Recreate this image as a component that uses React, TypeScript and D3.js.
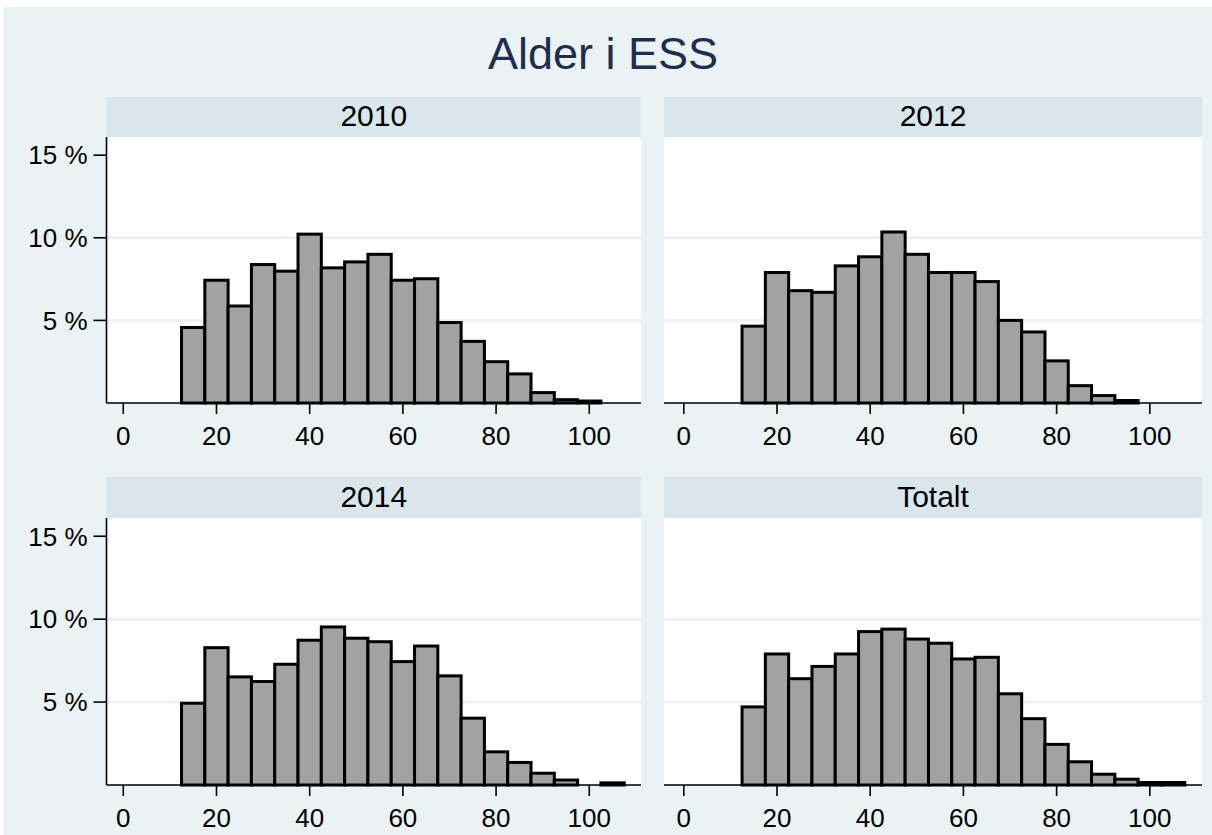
import * as d3 from 'd3'
import React from 'react'

const title = 'Alder i ESS'
const panelNames = ['2010', '2012', '2014', 'Totalt']

// histogram bins: 5-year width, first bin centred on 15
const binStart = 12.5
const binWidth = 5

// percent of respondents per bin
const pct2010 = [4.57, 7.43, 5.87, 8.38, 7.98, 10.22, 8.18, 8.54, 9.0, 7.43, 7.52, 4.87, 3.73, 2.5, 1.76, 0.63, 0.2, 0.12]
const pct2012 = [4.65, 7.9, 6.8, 6.7, 8.3, 8.85, 10.35, 9.0, 7.9, 7.9, 7.35, 5.0, 4.3, 2.55, 1.05, 0.45, 0.15]
const pct2014 = [4.93, 8.28, 6.52, 6.24, 7.28, 8.73, 9.53, 8.85, 8.64, 7.44, 8.38, 6.58, 4.03, 2.0, 1.36, 0.71, 0.3, 0, 0.13]
const pctTotalt = [4.71, 7.9, 6.41, 7.15, 7.9, 9.25, 9.4, 8.8, 8.55, 7.6, 7.7, 5.5, 4.0, 2.45, 1.4, 0.65, 0.35, 0.15, 0.15]

const xTicks = [0, 20, 40, 60, 80, 100]
const yTicks = [5, 10, 15]
const gridTicks = [5, 10]

const W = 1212
const H = 835
const font = "'Liberation Sans', Arial, Helvetica, sans-serif"

// panel frames: plot region edges, x range, strip top/bottom, baseline
const frames = [
  { left: 106.5, right: 641, xDom: [-3.6, 111.1], stripTop: 97, stripBottom: 137, base: 403, yAxis: true },
  { left: 664, right: 1202, xDom: [-4.25, 111.2], stripTop: 97, stripBottom: 137, base: 403, yAxis: false },
  { left: 106.5, right: 641, xDom: [-3.6, 111.1], stripTop: 477, stripBottom: 518, base: 785, yAxis: true },
  { left: 664, right: 1202, xDom: [-4.25, 111.2], stripTop: 477, stripBottom: 518, base: 785, yAxis: false },
]

const series = [pct2010, pct2012, pct2014, pctTotalt]

const Panel: React.FC<{ idx: number }> = ({ idx }) => {
  const f = frames[idx]
  const data = series[idx]
  const x = d3.scaleLinear().domain(f.xDom).range([f.left, f.right])
  const y = d3.scaleLinear().domain([0, 16.1]).range([f.base, f.stripBottom])

  const bins = data
    .map((v, i) => ({ x0: binStart + i * binWidth, x1: binStart + (i + 1) * binWidth, v }))
    .filter((d) => d.v > 0)

  return (
    <g>
      <rect x={f.left} y={f.stripBottom} width={f.right - f.left} height={f.base - f.stripBottom} fill='#ffffff' />
      {gridTicks.map((t) => (
        <line key={t} x1={f.left} x2={f.right} y1={y(t)} y2={y(t)} stroke='#eaf2f3' strokeWidth={2.5} />
      ))}
      {bins.map((d, i) => (
        <rect
          key={i}
          x={x(d.x0)}
          y={y(d.v)}
          width={x(d.x1) - x(d.x0)}
          height={f.base - y(d.v)}
          fill='#a2a2a2'
          stroke='#000'
          strokeWidth={3}
        />
      ))}
      {/* x axis */}
      <line x1={f.left} x2={f.right} y1={f.base} y2={f.base} stroke='#000' strokeWidth={1.6} />
      {xTicks.map((t) => (
        <g key={t}>
          <line x1={x(t)} x2={x(t)} y1={f.base} y2={f.base + 11} stroke='#000' strokeWidth={1.6} />
          <text x={x(t)} y={f.base + 42} textAnchor='middle' fontSize={26} fontFamily={font} fill='#000'>
            {t}
          </text>
        </g>
      ))}
      {/* y axis */}
      {f.yAxis && (
        <g>
          <line x1={f.left} x2={f.left} y1={f.stripBottom} y2={f.base} stroke='#000' strokeWidth={1.6} />
          {yTicks.map((t) => (
            <g key={t}>
              <line x1={f.left - 13} x2={f.left} y1={y(t)} y2={y(t)} stroke='#000' strokeWidth={1.6} />
              <text x={f.left - 19} y={y(t) + 9.3} textAnchor='end' fontSize={26} fontFamily={font} fill='#000'>
                {t} %
              </text>
            </g>
          ))}
        </g>
      )}
      {/* strip */}
      <rect x={f.left} y={f.stripTop} width={f.right - f.left} height={f.stripBottom - f.stripTop} fill='#d9e6eb' />
      <text
        x={(f.left + f.right) / 2}
        y={f.stripBottom - 11}
        textAnchor='middle'
        fontSize={30}
        fontFamily={font}
        fill='#000'
      >
        {panelNames[idx]}
      </text>
    </g>
  )
}

const App: React.FC = () => {
  return (
    <div style={{ position: 'absolute', left: 0, top: 0 }}>
      <svg width={W} height={H} style={{ display: 'block' }}>
        <rect x={0} y={0} width={W} height={H} fill='#ffffff' />
        <rect x={3} y={7} width={W - 3} height={H - 7} fill='#eaf2f3' />
        <text x={603} y={69} textAnchor='middle' fontSize={45} fontFamily={font} fill='#1e2d50'>
          {title}
        </text>
        {frames.map((_, i) => (
          <Panel key={i} idx={i} />
        ))}
      </svg>
    </div>
  )
}

export default App
